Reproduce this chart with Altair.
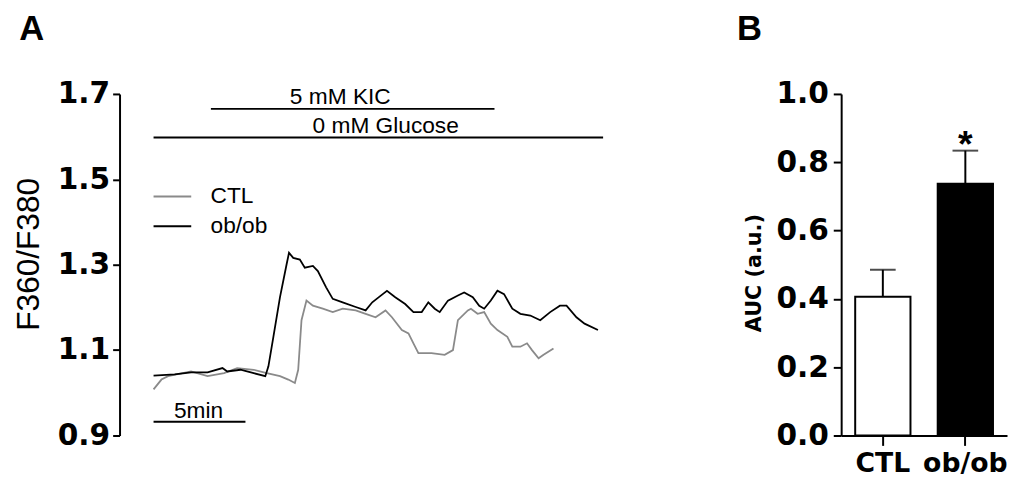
import altair as alt
import pandas as pd

# ---------------- Panel A: Ca2+ traces (time in min, F360/F380 ratio) ----------------
ctl_t = [0.0, 0.43, 0.79, 2.04, 2.94, 3.84, 4.55, 5.45, 6.16, 6.88, 7.33, 7.69, 7.87, 8.05,
         8.32, 8.67, 9.21, 9.75, 10.29, 11.0, 11.54, 12.08, 12.62, 12.97, 13.51, 13.87, 14.14,
         14.41, 15.12, 15.84, 16.29, 16.56, 17.1, 17.27, 17.63, 17.99, 18.35, 18.71, 19.25,
         19.52, 19.96, 20.32, 20.59, 20.95, 21.22, 21.76]
ctl_v = [1.008, 1.031, 1.039, 1.050, 1.039, 1.046, 1.058, 1.054, 1.046, 1.039, 1.031, 1.023,
         1.054, 1.170, 1.216, 1.204, 1.197, 1.189, 1.197, 1.193, 1.185, 1.177, 1.193, 1.177,
         1.147, 1.139, 1.116, 1.093, 1.093, 1.089, 1.100, 1.170, 1.193, 1.197, 1.185, 1.189,
         1.162, 1.147, 1.131, 1.108, 1.108, 1.116, 1.100, 1.081, 1.089, 1.104]

ob_t = [0.0, 1.15, 2.04, 2.94, 3.75, 4.01, 4.73, 5.45, 6.08, 6.25, 6.52, 6.88, 7.24, 7.37,
        7.60, 7.96, 8.23, 8.67, 8.94, 9.39, 9.75, 10.29, 11.0, 11.54, 11.9, 12.26, 12.7,
        13.15, 13.69, 14.14, 14.59, 14.95, 15.3, 15.57, 16.02, 16.56, 16.9, 17.37, 17.72,
        17.99, 18.35, 18.71, 19.07, 19.52, 19.96, 20.5, 21.04, 21.58, 22.11, 22.47, 23.01,
        23.45, 24.18]
ob_v = [1.040, 1.043, 1.048, 1.048, 1.058, 1.050, 1.054, 1.046, 1.039, 1.062, 1.131, 1.224,
        1.301, 1.328, 1.316, 1.312, 1.293, 1.297, 1.285, 1.247, 1.220, 1.212, 1.201, 1.193,
        1.212, 1.224, 1.239, 1.224, 1.208, 1.189, 1.189, 1.212, 1.197, 1.189, 1.216, 1.228,
        1.235, 1.224, 1.204, 1.197, 1.216, 1.239, 1.231, 1.197, 1.185, 1.181, 1.170, 1.189,
        1.204, 1.204, 1.177, 1.162, 1.147]

groups = ["CTL", "ob/ob"]
trace_colors = ["#8a8a8a", "#000000"]

# treatment bars (min)
treat_labels = ["5 mM KIC", "0 mM Glucose"]
treat_start = [3.12, 0.0]
treat_end = [18.55, 24.46]
treat_level = [1.665, 1.598]
treat_label_t = [10.16, 12.63]

# time scale bar
scale_labels = ["5min"]
scale_start = [0.0]
scale_end = [5.0]
scale_level = [0.932]
scale_label_t = [2.45]

# in-plot legend
legend_level = [1.46, 1.39]
legend_key_start = [0.0, 0.0]
legend_key_end = [2.05, 2.05]
legend_text_t = [3.1, 3.1]

ratio_ticks = [0.9, 1.1, 1.3, 1.5, 1.7]

# ---------------- Panel B: AUC ----------------
auc_mean = [0.406, 0.737]
auc_sem = [0.079, 0.097]
auc_sig = ["", "*"]
auc_ticks = [0.0, 0.2, 0.4, 0.6, 0.8, 1.0]
bar_fills = ["#ffffff", "#000000"]

panel_letters = ["A", "B"]

BOLD_FONT = "DejaVu Sans"
TEXT_FONT = "Liberation Sans"
H = 346
WA = 512
WB = 168

# ---------- build tables ----------
trace_df = pd.concat([
    pd.DataFrame({"t": ctl_t, "v": ctl_v, "group": groups[0]}),
    pd.DataFrame({"t": ob_t, "v": ob_v, "group": groups[1]}),
], ignore_index=True)
treat_df = pd.DataFrame({"label": treat_labels, "start": treat_start, "end": treat_end,
                         "level": treat_level, "lt": treat_label_t})
scale_df = pd.DataFrame({"label": scale_labels, "start": scale_start, "end": scale_end,
                         "level": scale_level, "lt": scale_label_t})
legend_df = pd.DataFrame({"group": groups, "level": legend_level, "start": legend_key_start,
                          "end": legend_key_end, "lt": legend_text_t})
bar_df = pd.DataFrame({"group": groups, "mean": auc_mean, "sem": auc_sem, "sig": auc_sig})
bar_df["top"] = bar_df["mean"] + bar_df["sem"]

xs = alt.Scale(domain=[-1.85, 25.65], nice=False, zero=False)
ys = alt.Scale(domain=[0.9, 1.7], nice=False, zero=False)
col = alt.Color("group:N", scale=alt.Scale(domain=groups, range=trace_colors), legend=None)

yaxis_a = alt.Axis(values=ratio_ticks, format=".1f", title="F360/F380", grid=False,
                   domainColor="black", domainWidth=2, tickColor="black", tickWidth=2,
                   tickSize=7, labelFont=BOLD_FONT, labelFontWeight="bold", labelFontSize=30,
                   labelColor="black", labelPadding=3, titleFont=TEXT_FONT, titleFontSize=32,
                   titleFontWeight="normal", titleColor="black", titlePadding=12,
                   titleY=H / 2 - 11)

lines = alt.Chart(trace_df).mark_line(strokeWidth=1.8).encode(
    x=alt.X("t:Q", scale=xs, axis=None),
    y=alt.Y("v:Q", scale=ys, axis=yaxis_a),
    color=col,
)
treat_rules = alt.Chart(treat_df).mark_rule(color="black", strokeWidth=2).encode(
    x=alt.X("start:Q", scale=xs), x2="end:Q", y=alt.Y("level:Q", scale=ys))
treat_text = alt.Chart(treat_df).mark_text(font=TEXT_FONT, fontSize=23, baseline="alphabetic",
                                           dy=-5, color="black").encode(
    x=alt.X("lt:Q", scale=xs), y=alt.Y("level:Q", scale=ys), text="label:N")
scale_rule = alt.Chart(scale_df).mark_rule(color="black", strokeWidth=2).encode(
    x=alt.X("start:Q", scale=xs), x2="end:Q", y=alt.Y("level:Q", scale=ys))
scale_text = alt.Chart(scale_df).mark_text(font=TEXT_FONT, fontSize=23, baseline="alphabetic",
                                           dy=-4, color="black").encode(
    x=alt.X("lt:Q", scale=xs), y=alt.Y("level:Q", scale=ys), text="label:N")
legend_rules = alt.Chart(legend_df).mark_rule(strokeWidth=2).encode(
    x=alt.X("start:Q", scale=xs), x2="end:Q", y=alt.Y("level:Q", scale=ys), color=col)
legend_text = alt.Chart(legend_df).mark_text(font=TEXT_FONT, fontSize=23, align="left",
                                             baseline="middle", color="black").encode(
    x=alt.X("lt:Q", scale=xs), y=alt.Y("level:Q", scale=ys), text="group:N")
letter_a = alt.Chart(pd.DataFrame({"letter": [panel_letters[0]]})).mark_text(
    font=TEXT_FONT, fontWeight="bold", fontSize=35, align="center", baseline="alphabetic",
    color="black").encode(text="letter:N", x=alt.value(-89), y=alt.value(-55))

panel_a = alt.layer(lines, treat_rules, treat_text, scale_rule, scale_text,
                    legend_rules, legend_text, letter_a).properties(width=WA, height=H)

# ---------- Panel B ----------
xb_scale = alt.Scale(domain=groups, paddingInner=0.33, paddingOuter=0.17)
xaxis_b = alt.Axis(title=None, labelAngle=0, domainColor="black", domainWidth=2,
                   tickColor="black", tickWidth=2, tickSize=10, labelFont=BOLD_FONT,
                   labelFontWeight="bold", labelFontSize=27, labelColor="black",
                   labelPadding=5)
yb_scale = alt.Scale(domain=[0, 1], nice=False)
yaxis_b = alt.Axis(values=auc_ticks, format=".1f", title="AUC (a.u.)", grid=False,
                   domainColor="black", domainWidth=2, tickColor="black", tickWidth=2,
                   tickSize=8, labelFont=BOLD_FONT, labelFontWeight="bold", labelFontSize=30,
                   labelColor="black", labelPadding=5, titleFont=BOLD_FONT, titleFontSize=21,
                   titleFontWeight="bold", titleColor="black", titlePadding=12,
                   titleY=H / 2 + 8)

bars = alt.Chart(bar_df).mark_bar(stroke="black", strokeWidth=2).encode(
    x=alt.X("group:N", sort=groups, scale=xb_scale, axis=xaxis_b),
    y=alt.Y("mean:Q", scale=yb_scale, axis=yaxis_b),
    fill=alt.Fill("group:N", scale=alt.Scale(domain=groups, range=bar_fills), legend=None),
)
err = alt.Chart(bar_df).mark_rule(color="black", strokeWidth=2).encode(
    x=alt.X("group:N", sort=groups, scale=xb_scale), y=alt.Y("mean:Q", scale=yb_scale),
    y2="top:Q")
caps = alt.Chart(bar_df).mark_tick(color="black", thickness=2, size=26).encode(
    x=alt.X("group:N", sort=groups, scale=xb_scale), y=alt.Y("top:Q", scale=yb_scale))
stars = alt.Chart(bar_df).mark_text(font=TEXT_FONT, fontWeight="bold", fontSize=38,
                                    baseline="alphabetic", dy=6, color="black").encode(
    x=alt.X("group:N", sort=groups, scale=xb_scale), y=alt.Y("top:Q", scale=yb_scale),
    text="sig:N")
letter_b = alt.Chart(pd.DataFrame({"letter": [panel_letters[1]]})).mark_text(
    font=TEXT_FONT, fontWeight="bold", fontSize=35, align="center", baseline="alphabetic",
    color="black").encode(text="letter:N", x=alt.value(-93), y=alt.value(-55))

panel_b = alt.layer(bars, err, caps, stars, letter_b).properties(width=WB, height=H)

chart = alt.hconcat(panel_a, panel_b, spacing=113).properties(
    padding={"left": 4, "top": 1, "right": 0, "bottom": 0},
    background="white",
).configure_view(stroke=None)

chart.save("out.html", embed_options={"renderer": "svg", "actions": False})
